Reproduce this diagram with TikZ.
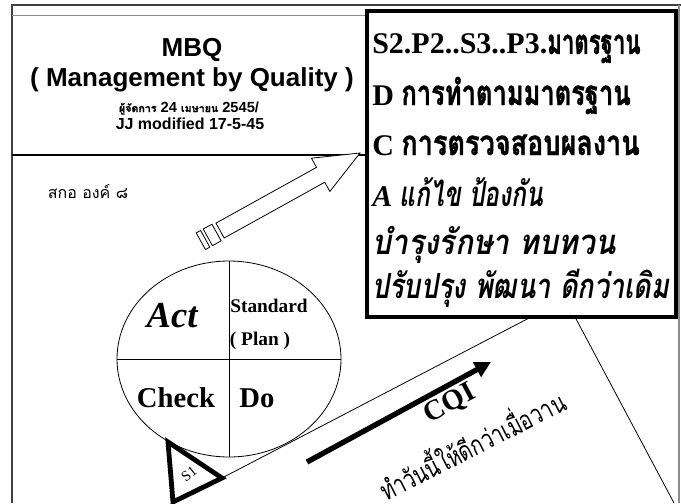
\documentclass[tikz,border=0pt]{standalone}
\usepackage{fontspec}
\usepackage{graphicx}
\setmainfont{Liberation Serif}
\newfontfamily\thai[Script=Thai,BoldFeatures={FakeBold=1.2}]{Loma}
\newfontfamily\arial{Liberation Sans}
\usetikzlibrary{arrows.meta,shapes.geometric}
\newcommand{\fsz}[1]{\fontsize{#1}{#1}\selectfont}
\newcommand{\thw}[2]{\scalebox{#1}[1]{\thai #2}}
\newcommand{\thb}[2]{\scalebox{#1}[1]{\thai\fsz{26pt}#2}}
\begin{document}
\begin{tikzpicture}[x=0.75pt,y=-0.75pt,
  frameline/.style={draw=black!75,line width=0.9pt},
  grayline/.style={draw=black!45,line width=1.4pt},
  thinline/.style={draw=black,line width=0.6pt},
  boxtext/.style={anchor=base west,inner sep=0pt,font=\fsz{22.5pt}\bfseries},
  titletext/.style={inner sep=0pt,font=\arial\bfseries\fsz{19.5pt}},
  cell/.style={inner sep=0pt,font=\bfseries},
  outline/.style={draw=black,line width=0.6pt,fill=white,line join=miter}]
\useasboundingbox (0,0) rectangle (681,503);
\fill[white] (0,0) rectangle (681,503);
% outer frame
\coordinate (ftl) at (12,5);
\coordinate (ftr) at (681,5);
\coordinate (fbl) at (12,503);
\coordinate (frt) at (679,5);
\coordinate (frb) at (679,503);
\draw[frameline] (ftr) -- (ftl) -- (fbl);
\draw[grayline,line width=1.1pt] (frt) -- (frb);
% title area
\coordinate (tt1) at (12,15.5);
\coordinate (tt2) at (367,15.5);
\coordinate (tb1) at (12,155);
\coordinate (tb2) at (367,155);
\draw[grayline] (tt1) -- (tt2);
\draw[thinline,line width=0.8pt] (tb1) -- (tb2);
\node[titletext] (mbq) at (192,50) {MBQ};
\node[titletext] (mgmt) at (192,80) {( Management by Quality )};
\node[inner sep=0pt] (date) at (189,108) {\arial\bfseries\fsz{11pt}{\thai\fsz{8pt}ผู้จัดการ} 24 {\thai\fsz{8pt}เมษายน} 2545/};
\node[inner sep=0pt,font=\arial\bfseries\fsz{12pt}] (jj) at (190,124) {JJ modified 17-5-45};
\node[inner sep=0pt,font=\thai\fsz{12pt}] (sko) at (88,192) {สกอ องค์ ๘};
% page lines (rotated sheet)
\coordinate (s1tip) at (222,478);
\coordinate (pa) at (531,317);
\coordinate (pb) at (575,317);
\coordinate (pc) at (674,503);
\draw[thinline] (s1tip) -- (pa);
\draw[thinline] (pb) -- (pc);
% striped hollow arrow
\begin{scope}[shift={(360,153)},rotate=29]
  \draw[outline] (0,0) -- (-45,-19) -- (-45,-8.5) -- (-160,-8.5) -- (-160,8.5) -- (-45,8.5) -- (-45,19) -- cycle;
  \draw[outline] (-164,-9.5) rectangle (-174,9.5);
  \draw[outline] (-177,-9.5) rectangle (-182,9.5);
\end{scope}
% PDCA circle
\node[draw,ellipse,line width=0.6pt,minimum width=168pt,minimum height=147pt,inner sep=0pt,fill=white] (cyc) at (229,359) {};
\draw[thinline] (cyc.north) -- (cyc.south);
\draw[thinline] (cyc.west) -- (cyc.east);
\node[cell,font=\bfseries\itshape\fsz{27.5pt}] (act) at (172,316) {Act};
\node[cell,font=\bfseries\fsz{14.5pt}] (std) at (269,306) {Standard};
\node[cell,font=\bfseries\fsz{14.5pt}] (plan) at (260,341) {( Plan )};
\node[cell,font=\bfseries\fsz{21.5pt}] (chk) at (176,398) {Check};
\node[cell,font=\bfseries\fsz{21.5pt}] (do) at (257,398) {Do};
% S1 triangle
\coordinate (s1top) at (168,442);
\coordinate (s1bot) at (173,502);
\draw[draw=black,fill=white,line width=3.6pt,line join=miter] (s1top) -- (s1tip) -- (s1bot) -- cycle;
\node[inner sep=0pt,rotate=38,font=\fsz{11pt}] (s1) at (189,474) {S1};
% CQI arrow
\coordinate (cqa) at (307,462);
\coordinate (cqb) at (491,362);
\draw[line width=4pt,-{Triangle[length=12pt,width=12pt]}] (cqa) -- (cqb);
\node[inner sep=0pt,rotate=28,font=\bfseries\fsz{21.5pt}] (cqi) at (450,404) {CQI};
\node[inner sep=0pt,rotate=27,font=\fsz{20pt}] (today) at (471,443) {\thw{0.76}{ทำวันนี้ให้ดีกว่าเมื่อวาน}};
% standards box
\node[draw=black,line width=3pt,fill=white,minimum width=231.75pt,minimum height=229.5pt,inner sep=0pt] (sbox) at (521.5,164) {};
\node[boxtext] (l1) at (372,54) {S2.P2..S3..P3.\thb{0.64}{มาตรฐาน}};
\node[boxtext] (l2) at (372,105) {D \thb{0.735}{การทำตามมาตรฐาน}};
\node[boxtext] (l3) at (372,155) {C \thb{0.78}{การตรวจสอบผลงาน}};
\node[boxtext,font=\fsz{22.5pt}\bfseries\itshape] (l4) at (372,206) {A \thb{0.71}{แก้ไข ป้องกัน}};
\node[boxtext,font=\fsz{22.5pt}\bfseries\itshape] (l5) at (372,254) {\thb{0.865}{บำรุงรักษา ทบทวน}};
\node[boxtext,font=\fsz{22.5pt}\bfseries\itshape] (l6) at (372,298) {\thb{0.78}{ปรับปรุง พัฒนา ดีกว่าเดิม}};
\end{tikzpicture}
\end{document}
